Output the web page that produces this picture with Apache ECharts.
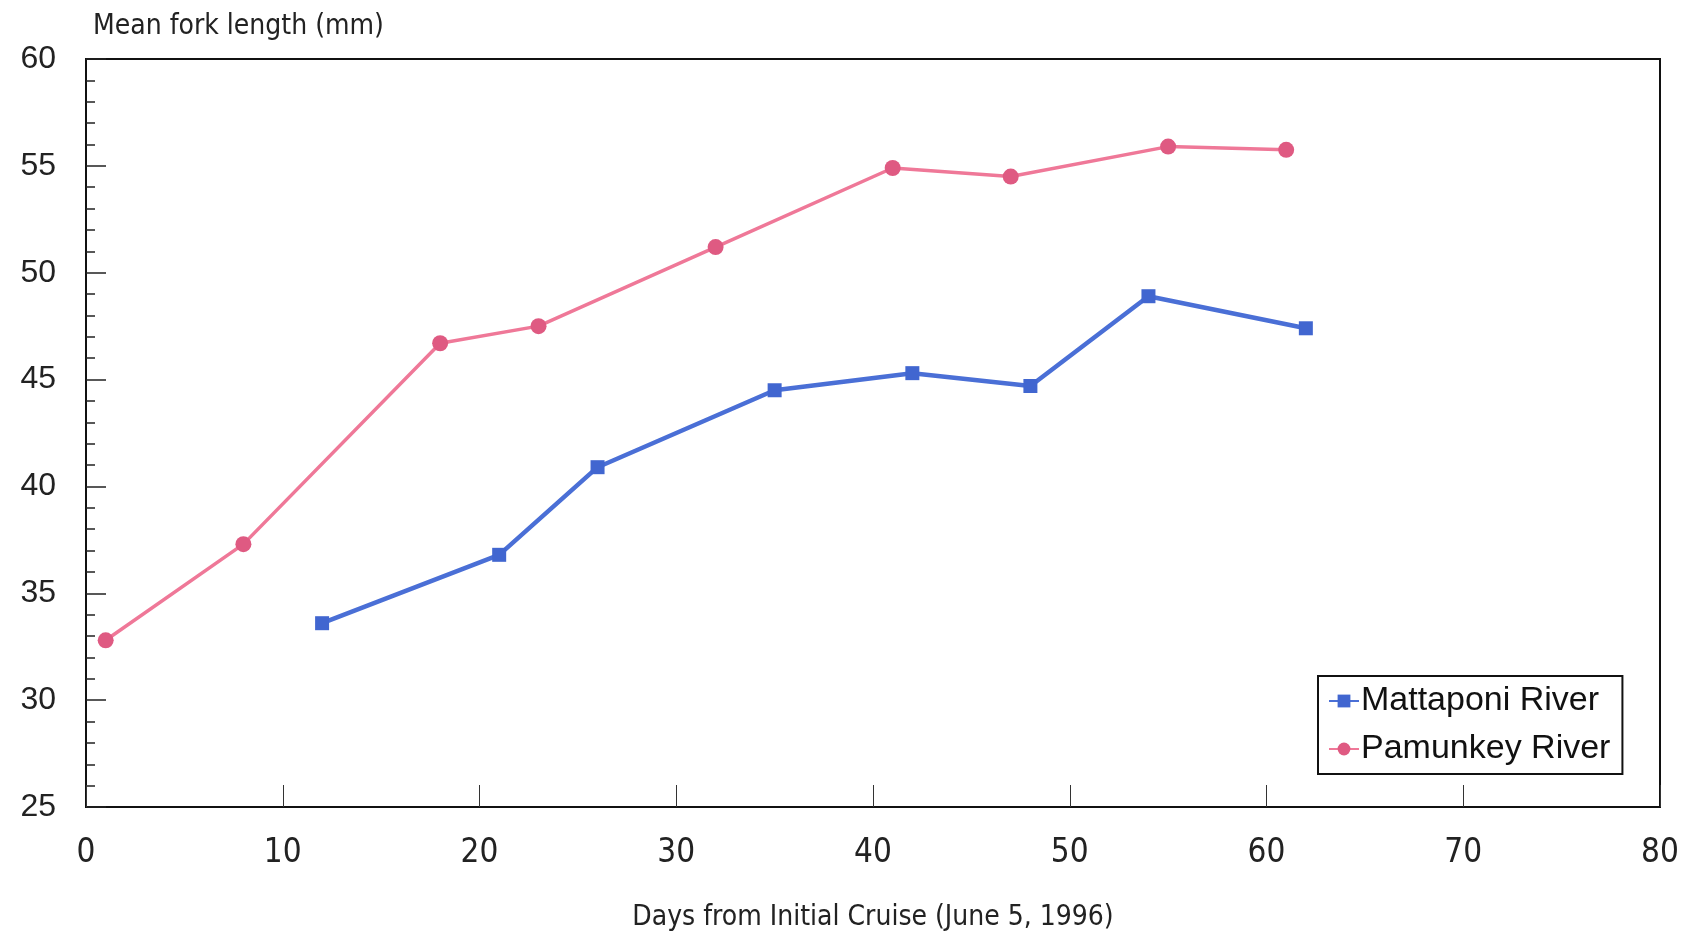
<!DOCTYPE html>
<html>
<head>
<meta charset="utf-8">
<style>
  html, body { margin: 0; padding: 0; background: #fff; overflow: hidden; }
  #chart { width: 1690px; height: 937px; }
</style>
<script src="https://cdn.jsdelivr.net/npm/echarts@6/dist/echarts.min.js"></script>
</head>
<body>
<div id="chart"></div>
<script>
// days from initial cruise, mean fork length (mm)
const mattaponiDays = [12, 21, 26, 35, 42, 48, 54, 62]
const mattaponiLen = [33.6, 36.8, 40.9, 44.5, 45.3, 44.7, 48.9, 47.4]
const pamunkeyDays = [1, 8, 18, 23, 32, 41, 47, 55, 61]
const pamunkeyLen = [32.8, 37.3, 46.7, 47.5, 51.2, 54.9, 54.5, 55.9, 55.75]

const narrow = "'Liberation Sans Narrow', 'DejaVu Sans Condensed', 'Liberation Sans', sans-serif"
const regular = "'Liberation Sans', Arial, sans-serif"

const pair = (xs, ys) => xs.map((x, i) => [x, ys[i]])

const chart = echarts.init(document.getElementById('chart'))
const option = {
  backgroundColor: '#fff',
  animation: false,
  grid: {
    left: 86, right: 30, top: 59, bottom: 119,
    show: true, borderColor: '#111', borderWidth: 2,
  },
  title: {
    text: 'Mean fork length (mm)',
    left: 88, top: 8,
    textStyle: { fontFamily: narrow, fontSize: 28, fontWeight: 'normal', color: '#222' },
  },
  legend: {
    orient: 'vertical',
    left: 1318, top: 676,
    padding: [8, 12, 8, 10],
    itemGap: 14,
    itemWidth: 30, itemHeight: 16,
    borderColor: '#111', borderWidth: 2,
    textStyle: { fontFamily: regular, fontSize: 34, color: '#111', padding: [0, 0, 0, -3] },
    data: ['Mattaponi River', 'Pamunkey River'],
  },
  xAxis: {
    type: 'value',
    min: 0, max: 80, interval: 10,
    name: 'Days from Initial Cruise (June 5, 1996)',
    nameLocation: 'middle',
    nameGap: 97,
    nameTextStyle: { fontFamily: narrow, fontSize: 28, color: '#222' },
    axisLine: { lineStyle: { color: '#111', width: 2 } },
    axisTick: { inside: true, length: 22, lineStyle: { color: '#333', width: 1 } },
    axisLabel: { margin: 30, fontFamily: narrow, fontSize: 33, color: '#222' },
    splitLine: { show: false },
  },
  yAxis: {
    type: 'value',
    min: 25, max: 60, interval: 5,
    axisLine: { show: true, lineStyle: { color: '#111', width: 2 } },
    axisTick: { show: true, inside: true, length: 20, lineStyle: { color: '#222', width: 1.5 } },
    minorTick: { show: true, splitNumber: 5, length: 9, lineStyle: { color: '#222', width: 1.5 } },
    axisLabel: { margin: 30, fontFamily: regular, fontSize: 32, color: '#222' },
    splitLine: { show: false },
  },
  series: [
    {
      name: 'Mattaponi River',
      type: 'line',
      data: pair(mattaponiDays, mattaponiLen),
      symbol: 'rect',
      symbolSize: 14,
      lineStyle: { color: '#4a6fd6', width: 4.5 },
      itemStyle: { color: '#4166d0' },
    },
    {
      name: 'Pamunkey River',
      type: 'line',
      data: pair(pamunkeyDays, pamunkeyLen),
      symbol: 'circle',
      symbolSize: 16,
      lineStyle: { color: '#ef7898', width: 3.5 },
      itemStyle: { color: '#df5a82' },
    },
  ],
}
chart.setOption(option)
</script>
</body>
</html>
